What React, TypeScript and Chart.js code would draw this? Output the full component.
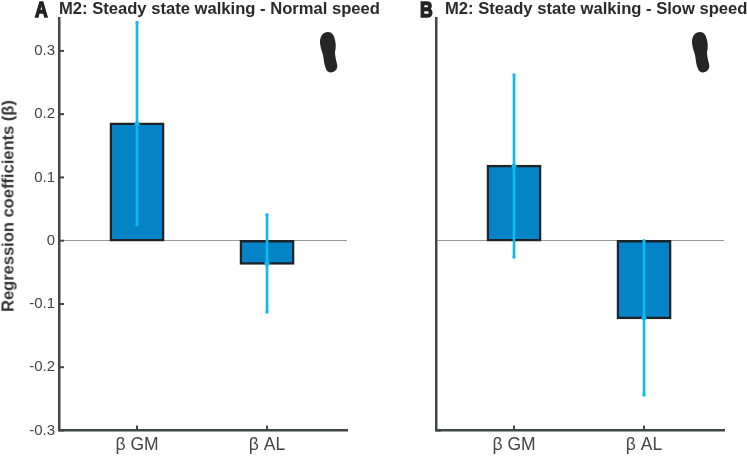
import React, { useEffect, useRef } from "react";
import { Chart, registerables } from "chart.js";

Chart.register(...registerables);

const categories = ["β GM", "β AL"];
const positions = [1, 2];
const normalMeans = [0.185, -0.036];
const normalLow = [0.025, -0.113];
const normalHigh = [0.345, 0.041];
const slowMeans = [0.118, -0.122];
const slowLow = [-0.026, -0.244];
const slowHigh = [0.262, 0.0];
const yTicks = [-0.3, -0.2, -0.1, 0, 0.1, 0.2, 0.3];

const FONT = '"Liberation Sans", Arial, sans-serif';
const AXIS = "#3f4846";
const CYAN = "#10b9ee";

const inwardTicks = {
  id: "inwardTicks",
  afterDatasetsDraw(chart: any, _a: any, opts: any) {
    const { ctx, chartArea, scales } = chart;
    ctx.save();
    ctx.strokeStyle = AXIS;
    ctx.lineWidth = 2;
    scales.y.ticks
      .filter((t: any) => opts.y || t.value === scales.y.min)
      .forEach((t: any) => {
        const p = scales.y.getPixelForValue(t.value);
        ctx.beginPath();
        ctx.moveTo(chartArea.left, p);
        ctx.lineTo(chartArea.left + 5, p);
        ctx.stroke();
      });
    scales.x.ticks.forEach((t: any) => {
      const p = scales.x.getPixelForValue(t.value);
      ctx.beginPath();
      ctx.moveTo(p, chartArea.bottom);
      ctx.lineTo(p, chartArea.bottom - 5);
      ctx.stroke();
    });
    ctx.restore();
  },
};

function config(means: number[], low: number[], high: number[], showY: boolean): any {
  return {
    type: "bar",
    plugins: [inwardTicks],
    data: {
      datasets: [
        {
          type: "line",
          showLine: false,
          data: [
            ...positions.map((x, i) => ({ x, y: low[i] })),
            ...positions.map((x, i) => ({ x, y: high[i] })),
          ],
          pointStyle: "rect",
          pointRadius: 2,
          pointBackgroundColor: CYAN,
          pointBorderWidth: 0,
          clip: false,
          order: 0,
        },
        {
          type: "line",
          showLine: false,
          data: positions.map((x, i) => ({ x, y: means[i] })),
          pointRadius: 2.5,
          pointBackgroundColor: CYAN,
          pointBorderWidth: 0,
          order: 0,
        },
        {
          data: positions.map((x, i) => ({ x, y: [low[i], high[i]] })),
          backgroundColor: CYAN,
          barThickness: 2,
          grouped: false,
          order: 1,
        },
        {
          data: positions.map((x, i) => ({ x, y: means[i] })),
          backgroundColor: "#0483c7",
          borderColor: "#1d2326",
          borderWidth: 2.5,
          borderSkipped: false,
          inflateAmount: 1.25,
          barThickness: 52.5,
          grouped: false,
          order: 2,
        },
      ],
    },
    options: {
      animation: false,
      responsive: false,
      layout: { padding: { top: 18, right: showY ? 27 : 23, left: showY ? 1 : 0, bottom: 0 } },
      plugins: {
        legend: { display: false },
        tooltip: { enabled: false },
        title: { display: false },
        inwardTicks: { y: showY },
      },
      scales: {
        x: {
          type: "linear",
          offset: false,
          min: 0.4,
          max: 2.615,
          afterBuildTicks: (s: any) => {
            s.ticks = positions.map((value) => ({ value }));
          },
          afterFit: (s: any) => {
            s.height = 25.5;
          },
          border: { color: AXIS, width: 2.5 },
          grid: { offset: false, drawOnChartArea: false, drawTicks: false },
          ticks: {
            padding: 4,
            color: "#444",
            font: { family: FONT, size: 17.5 },
            maxRotation: 0,
            callback: (v: number) => categories[v - 1] ?? "",
          },
        },
        y: {
          min: -0.3,
          max: 0.352,
          afterBuildTicks: (s: any) => {
            s.ticks = yTicks.map((value) => ({ value }));
          },
          afterFit: (s: any) => {
            s.width = showY ? 58 : 62;
          },
          border: { color: AXIS, width: 2.5 },
          grid: {
            drawOnChartArea: true,
            drawTicks: false,
            color: (c: any) => (c.tick && c.tick.value === 0 ? "#9a9a9a" : "rgba(0,0,0,0)"),
            lineWidth: 1,
          },
          ticks: {
            display: showY,
            padding: 4,
            color: "#444",
            font: { family: FONT, size: 15 },
            callback: (v: number) => (v === 0 ? "0" : String(Number(v.toFixed(1)))),
          },
        },
      },
    },
  };
}

const FOOT =
  "M8 0C3 0 0 4 0 10C0 15 2 19 3 23C4 28 4 33 6 37C7 40 10 41 13 40C16 39 18 36 17 32C16 28 15 24 15 20C16 16 16 12 15 8C14 3 12 0 8 0Z";

function Foot({ left }: { left: number }) {
  return (
    <svg width={18} height={41} viewBox="0 0 18 41" style={{ position: "absolute", left, top: 32 }}>
      <path d={FOOT} fill="#262626" />
    </svg>
  );
}

function Heading({ letter, lx, text, tx }: { letter: string; lx: number; text: string; tx: number }) {
  return (
    <>
      <span
        style={{
          position: "absolute",
          left: lx,
          top: -3,
          font: `bold 22px ${FONT}`,
          color: "#222",
          WebkitTextStroke: "1.5px #222",
          transform: "scaleX(0.8)",
          transformOrigin: "left top",
        }}
      >
        {letter}
      </span>
      <span
        style={{
          position: "absolute",
          left: tx,
          top: 0,
          whiteSpace: "nowrap",
          font: `bold 16.6px ${FONT}`,
          lineHeight: "18px",
          color: "#2a2a2a",
        }}
      >
        {text}
      </span>
    </>
  );
}

export default function App() {
  const a = useRef<HTMLCanvasElement>(null);
  const b = useRef<HTMLCanvasElement>(null);
  useEffect(() => {
    const ca = new Chart(a.current!, config(normalMeans, normalLow, normalHigh, true));
    const cb = new Chart(b.current!, config(slowMeans, slowLow, slowHigh, false));
    return () => {
      ca.destroy();
      cb.destroy();
    };
  }, []);
  return (
    <div style={{ position: "fixed", left: 0, top: 0, width: 747, height: 456, background: "#fff", overflow: "hidden" }}>
      <canvas ref={a} width={374} height={456} style={{ position: "absolute", left: 0, top: 0 }} />
      <canvas ref={b} width={373} height={456} style={{ position: "absolute", left: 374, top: 0 }} />
      <Heading letter="A" lx={35} text="M2: Steady state walking - Normal speed" tx={59} />
      <Heading letter="B" lx={420} text="M2: Steady state walking - Slow speed" tx={445} />
      <span
        style={{
          position: "absolute",
          left: 7.5,
          top: 206,
          whiteSpace: "nowrap",
          font: `bold 16.5px ${FONT}`,
          color: "#333",
          transform: "translate(-50%, -50%) rotate(-90deg)",
        }}
      >
        Regression coefficients (β)
      </span>
      <Foot left={320} />
      <Foot left={692} />
    </div>
  );
}
